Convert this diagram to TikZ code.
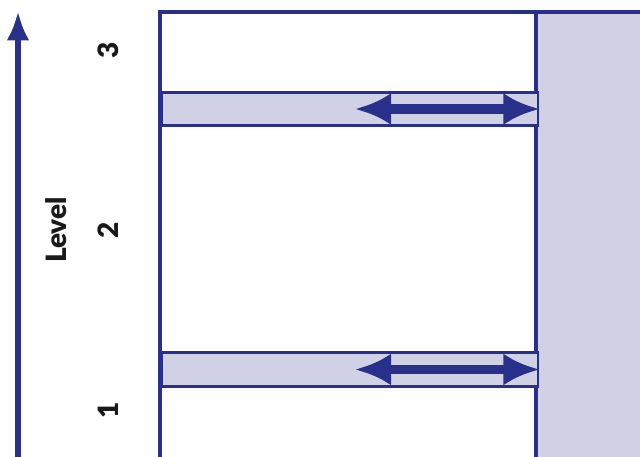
\documentclass[tikz,border=0pt]{standalone}
\usepackage{fontspec}
\setmainfont{Lato}[UprightFont=* Bold, BoldFont=* Black]
\usetikzlibrary{arrows.meta}
\definecolor{navy}{RGB}{40,48,140}
\definecolor{lav}{RGB}{209,209,230}
\begin{document}
\begin{tikzpicture}[x=0.75pt, y=-0.75pt, line join=miter,
      lbl/.style = {font=\fontsize{21}{25}\selectfont\bfseries, rotate=90, text=black!90},
      bar/.style = {draw=navy, line width=2.2pt, fill=lav, minimum width=282pt, minimum height=25pt, inner sep=0pt},
      dbl/.style = {navy, line width=7pt, {Latex[length=27pt,width=24pt]}-{Latex[length=27pt,width=24pt]}}]
      \useasboundingbox (0,0) rectangle (640,457);
      \clip (0,0) rectangle (640,457);

      % frame and shaded column
      \fill[lav] (536,12) rectangle (660,480);
      \draw[navy, line width=2.4pt] (160,480) -- (160,12) -- (660,12);
      \draw[navy, line width=2.4pt] (536,12) -- (536,480);

      % bars
      \node[bar] (bar3) at (350,109) {};
      \node[bar] (bar1) at (350,369.5) {};
      \coordinate (a3) at (355,109);
      \coordinate (a1) at (355,369.5);
      \draw[dbl] (a3) -- (bar3.east);
      \draw[dbl] (a1) -- (bar1.east);

      % axis
      \coordinate (base) at (18,470);
      \coordinate (top) at (18,11);
      \draw[navy, line width=4.2pt, -{Latex[length=22pt,width=17pt]}] (base) -- (top);
      \node[lbl] (level) at (56,230) {Level};
      \node[lbl] (n3) at (108,50) {3};
      \node[lbl] (n2) at (108,230) {2};
      \node[lbl] (n1) at (108,410) {1};
    \end{tikzpicture}
\end{document}
